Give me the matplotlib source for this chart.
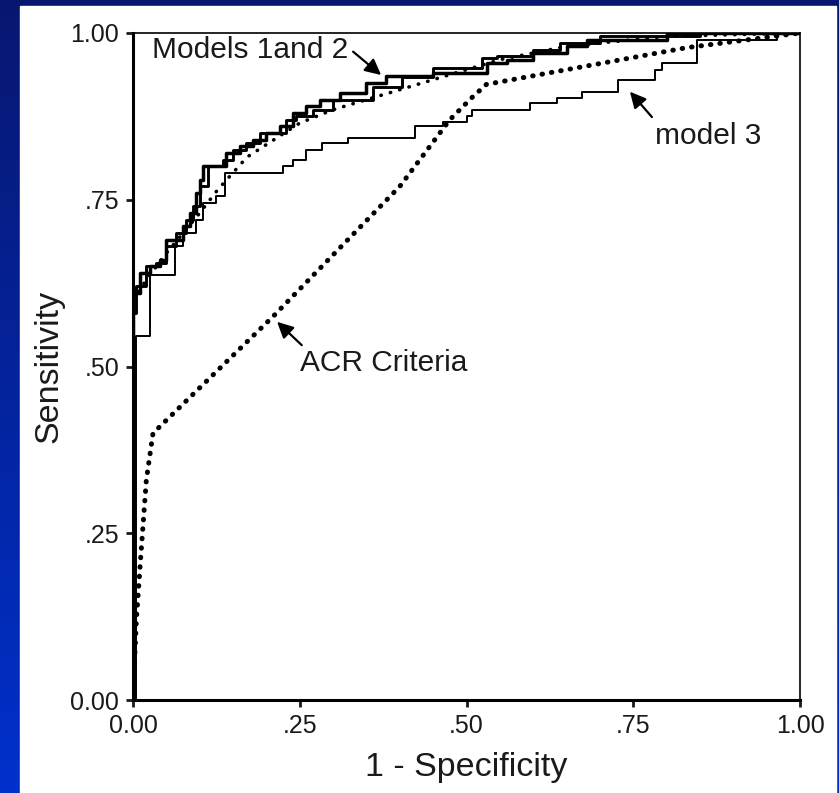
import numpy as np
import matplotlib
matplotlib.use('Agg')
import matplotlib.pyplot as plt

plt.rcParams['font.family'] = ['Liberation Sans', 'DejaVu Sans']

# ROC curves (1 - specificity, sensitivity)
model1_x = [0, 0, 0.01, 0.01, 0.025, 0.025, 0.04, 0.04, 0.05, 0.05, 0.075, 0.075, 0.085, 0.085,
            0.095, 0.095, 0.1, 0.1, 0.105, 0.105, 0.14, 0.14, 0.16, 0.16, 0.18, 0.18, 0.2, 0.2,
            0.22, 0.22, 0.24, 0.24, 0.26, 0.26, 0.28, 0.28, 0.31, 0.31, 0.35, 0.35, 0.38, 0.38,
            0.45, 0.45, 0.53, 0.53, 0.56, 0.56, 0.6, 0.6, 0.65, 0.65, 0.68, 0.68, 0.8, 0.8, 1.0]
model1_y = [0, 0.61, 0.61, 0.64, 0.64, 0.65, 0.65, 0.66, 0.66, 0.69, 0.69, 0.71, 0.71, 0.73,
            0.73, 0.76, 0.76, 0.78, 0.78, 0.80, 0.80, 0.82, 0.82, 0.83, 0.83, 0.84, 0.84, 0.85,
            0.85, 0.86, 0.86, 0.88, 0.88, 0.89, 0.89, 0.90, 0.90, 0.91, 0.91, 0.925, 0.925, 0.935,
            0.935, 0.94, 0.94, 0.955, 0.955, 0.96, 0.96, 0.97, 0.97, 0.98, 0.98, 0.99, 0.99, 1.0, 1.0]

model2_x = [0, 0, 0.005, 0.005, 0.02, 0.02, 0.035, 0.035, 0.05, 0.05, 0.065, 0.065, 0.08, 0.08,
            0.09, 0.09, 0.1, 0.1, 0.112, 0.112, 0.135, 0.135, 0.15, 0.15, 0.17, 0.17, 0.19, 0.19,
            0.23, 0.23, 0.245, 0.245, 0.27, 0.27, 0.3, 0.3, 0.36, 0.36, 0.403, 0.403, 0.45, 0.45,
            0.523, 0.523, 0.546, 0.546, 0.6, 0.6, 0.64, 0.64, 0.7, 0.7, 0.85, 0.85, 1.0]
model2_y = [0, 0.58, 0.58, 0.62, 0.62, 0.65, 0.65, 0.655, 0.655, 0.68, 0.68, 0.70, 0.70, 0.72,
            0.72, 0.74, 0.74, 0.77, 0.77, 0.80, 0.80, 0.81, 0.81, 0.825, 0.825, 0.835, 0.835, 0.85,
            0.85, 0.87, 0.87, 0.875, 0.875, 0.885, 0.885, 0.90, 0.90, 0.919, 0.919, 0.934, 0.934, 0.948,
            0.948, 0.962, 0.962, 0.965, 0.965, 0.975, 0.975, 0.985, 0.985, 0.995, 0.995, 1.0, 1.0]

model3_x = [0, 0.005, 0.005, 0.025, 0.025, 0.063, 0.063, 0.075, 0.075, 0.095, 0.095, 0.105, 0.105,
            0.125, 0.125, 0.138, 0.138, 0.225, 0.225, 0.24, 0.24, 0.26, 0.26, 0.283, 0.283,
            0.323, 0.323, 0.423, 0.423, 0.465, 0.465, 0.5, 0.5, 0.508, 0.508, 0.595, 0.595,
            0.636, 0.636, 0.673, 0.673, 0.727, 0.727, 0.783, 0.783, 0.793, 0.793, 0.845, 0.845,
            0.965, 0.965, 1.0]
model3_y = [0, 0, 0.545, 0.545, 0.637, 0.637, 0.68, 0.68, 0.70, 0.70, 0.72, 0.72, 0.745,
            0.745, 0.755, 0.755, 0.79, 0.79, 0.80, 0.80, 0.81, 0.81, 0.825, 0.825, 0.835,
            0.835, 0.843, 0.843, 0.86, 0.86, 0.867, 0.867, 0.876, 0.876, 0.885, 0.885, 0.895,
            0.895, 0.903, 0.903, 0.912, 0.912, 0.93, 0.93, 0.945, 0.945, 0.955, 0.955, 0.99,
            0.99, 1.0, 1.0]

# smooth dotted curve running along models 1 and 2
fit_x = [0, 0.02, 0.05, 0.1, 0.127, 0.171, 0.25, 0.30, 0.35, 0.45, 0.55, 0.65, 0.8, 1.0]
fit_y = [0.6, 0.63, 0.67, 0.73, 0.765, 0.814, 0.865, 0.885, 0.90, 0.93, 0.96, 0.98, 0.995, 1.0]

acr_x = [0, 0.005, 0.012, 0.02, 0.03, 0.21, 0.40, 0.475, 0.51, 0.53, 0.83, 1.0]
acr_y = [0, 0.12, 0.22, 0.33, 0.40, 0.575, 0.77, 0.87, 0.905, 0.923, 0.978, 1.0]

ticks = [0, 0.25, 0.5, 0.75, 1.0]
tick_labels = ['0.00', '.25', '.50', '.75', '1.00']

fig = plt.figure(figsize=(8.39, 7.93), dpi=100)

# blue gradient slide background with white panel
bg = fig.add_axes([0, 0, 1, 1], zorder=-2)
grad = np.linspace(0, 1, 256).reshape(-1, 1)
top_col = np.array([0.03, 0.09, 0.44])
bot_col = np.array([0.0, 0.19, 0.80])
img = top_col + (bot_col - top_col) * grad[..., None]
bg.imshow(img, aspect='auto', extent=[0, 1, 0, 1], origin='upper')
bg.add_patch(plt.Rectangle((20 / 839, 0), 816 / 839, 787 / 793, color='white'))
bg.set_xlim(0, 1)
bg.set_ylim(0, 1)
bg.axis('off')

ax = fig.add_axes([133 / 839, 93 / 793, 667 / 839, 667 / 793])
ax.plot(acr_x, acr_y, color='black', lw=3.6, linestyle=(0, (0.1, 1.8)), dash_capstyle='round')
ax.plot(fit_x, fit_y, color='black', lw=2.6, linestyle=(0, (0.1, 2.6)), dash_capstyle='round')
ax.plot(model3_x, model3_y, color='black', lw=1.4)
ax.plot(model2_x, model2_y, color='black', lw=2.1)
ax.plot(model1_x, model1_y, color='black', lw=2.5)

ax.set_xlim(0, 1)
ax.set_ylim(0, 1)
ax.set_xticks(ticks)
ax.set_xticklabels(tick_labels)
ax.set_yticks(ticks)
ax.set_yticklabels(tick_labels)
ax.tick_params(labelsize=18, length=5, width=2, colors='#1a1a1a', pad=5)
for side in ['top', 'right']:
    ax.spines[side].set_linewidth(1.2)
for side in ['left', 'bottom']:
    ax.spines[side].set_linewidth(2.2)

ax.set_xlabel('1 - Specificity', fontsize=24.5, color='#1a1a1a', labelpad=10)
ax.set_ylabel('Sensitivity', fontsize=24.5, color='#1a1a1a', labelpad=4)

# labels and their arrows
arrow = dict(arrowstyle='-|>', color='black', lw=1.6, mutation_scale=24,
             shrinkA=0, shrinkB=0)
ax.text(0.028, 0.975, 'Models 1and 2', fontsize=21.5, color='#1a1a1a', va='center', ha='left')
ax.annotate('', xy=(0.372, 0.937), xytext=(0.33, 0.972), arrowprops=arrow)
ax.text(0.783, 0.845, 'model 3', fontsize=21.5, color='#1a1a1a', va='center', ha='left')
ax.annotate('', xy=(0.745, 0.912), xytext=(0.778, 0.874), arrowprops=arrow)
ax.text(0.25, 0.505, 'ACR Criteria', fontsize=21.5, color='#1a1a1a', va='center', ha='left')
ax.annotate('', xy=(0.216, 0.567), xytext=(0.253, 0.532), arrowprops=arrow)

plt.savefig('out.png', dpi=100)
